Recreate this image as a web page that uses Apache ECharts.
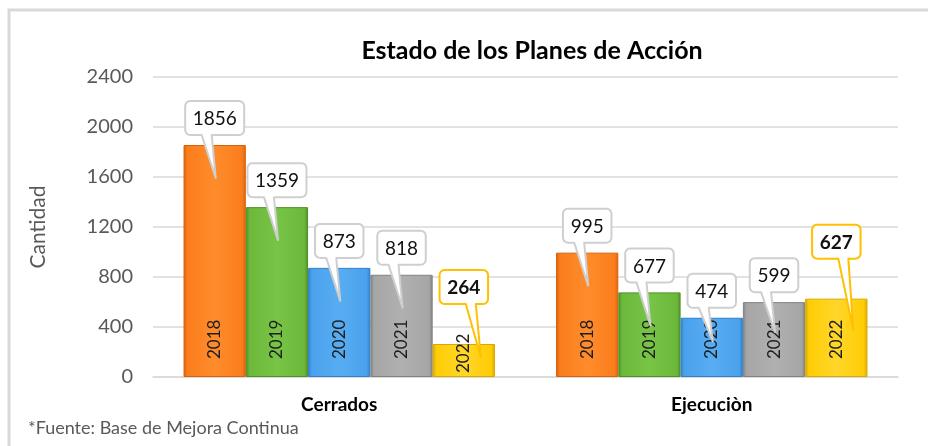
<!DOCTYPE html>
<html lang="es">
<head>
    <meta charset="UTF-8">
    <title>Estado de los Planes de Acción</title>
    <script src="https://cdn.jsdelivr.net/npm/echarts@6/dist/echarts.min.js"></script>
    <style>
        html, body { margin: 0; padding: 0; background: #fff; }
        #main { width: 928px; height: 446px; }
    </style>
</head>
<body>
<div id="main"></div>
<script>
    // datos
    let categorias = ['Cerrados', 'Ejecuciòn'];
    let anios = ['2018', '2019', '2020', '2021', '2022'];
    let v2018 = [1856, 995];
    let v2019 = [1359, 677];
    let v2020 = [873, 474];
    let v2021 = [818, 599];
    let v2022 = [264, 627];
    let valores = [v2018, v2019, v2020, v2021, v2022];
    let ticksY = [0, 400, 800, 1200, 1600, 2000, 2400];

    let colores = [
        ['#d8620c', '#fb7d1c', '#ff8c2c'],
        ['#4f8f28', '#6cb83a', '#78c446'],
        ['#2f7fcb', '#4aa2ec', '#58adf2'],
        ['#828282', '#a6a6a6', '#b0b0b0'],
        ['#d9a800', '#ffcd05', '#ffd62a']
    ];
    let gapCat = 0.164;
    let fuente = 'Lato, "Open Sans", sans-serif';

    function grad(c) {
        return new echarts.graphic.LinearGradient(0, 0, 1, 0, [
            {offset: 0, color: c[0]},
            {offset: 0.06, color: c[1]},
            {offset: 0.5, color: c[2]},
            {offset: 0.94, color: c[1]},
            {offset: 1, color: c[0]}
        ]);
    }

    // rectángulo redondeado con cola, como lista de puntos
    function globo(x0, y0, x1, y1, r, bx0, bx1, tx, ty) {
        let pts = [];
        function arco(cx, cy, a0) {
            for (let s = 0; s <= 4; s++) {
                let a = (a0 + s * 22.5) * Math.PI / 180;
                pts.push([cx + r * Math.cos(a), cy + r * Math.sin(a)]);
            }
        }
        arco(x0 + r, y0 + r, 180);
        arco(x1 - r, y0 + r, 270);
        arco(x1 - r, y1 - r, 0);
        pts.push([bx1, y1], [tx, ty], [bx0, y1]);
        arco(x0 + r, y1 - r, 90);
        return pts;
    }

    let chart = echarts.init(document.getElementById('main'));

    let series = [];
    anios.forEach((a, k) => {
        series.push({
            name: a,
            type: 'bar',
            data: valores[k].map(v => v < 400 ? {value: v, label: {distance: 4}} : v),
            barGap: 0,
            barCategoryGap: (gapCat * 100) + '%',
            itemStyle: {color: grad(colores[k]), borderColor: colores[k][0], borderWidth: 1},
            label: {
                show: true,
                position: 'insideBottom',
                rotate: 90,
                distance: 18,
                formatter: a,
                color: '#1e1e1e',
                fontSize: 17,
                fontFamily: fuente,
                align: 'left',
                verticalAlign: 'middle'
            }
        });
    });

    // globos de los valores
    anios.forEach((a, k) => {
        let destacado = k === 4;
        series.push({
            type: 'custom',
            z: 10,
            data: valores[k].map((v, i) => [i, v]),
            renderItem: function (params, api) {
                let i = api.value(0), v = api.value(1);
                let band = api.size([1, 0])[0];
                let bw = band * (1 - gapCat) / anios.length;
                let p = api.coord([i, v]);
                let base = api.coord([i, 0])[1];
                let cx = p[0] + (k - 2) * bw;
                let top = p[1];
                let txt = String(v);
                let w = txt.length * 10.5 + 17;
                let h = 34;
                let gap = destacado ? 40 : 10;
                let y1 = top - gap, y0 = y1 - h;
                let x0 = cx - w / 2, x1 = cx + w / 2;
                let depth = Math.min(33, (base - top) * 0.4);
                let tx = cx + (destacado ? 17 : 1), ty = top + depth;
                let bx0 = cx - 13 + (destacado ? 15 : 0), bx1 = bx0 + 10;
                let borde = destacado ? '#ffc000' : '#cfcfcf';
                return {
                    type: 'group',
                    children: [
                        {
                            type: 'polygon',
                            shape: {points: globo(x0, y0, x1, y1, 5, bx0, bx1, tx, ty)},
                            style: {fill: '#fff', stroke: borde, lineWidth: 2, lineJoin: 'round'}
                        },
                        {
                            type: 'text',
                            style: {
                                x: cx, y: (y0 + y1) / 2 + 1, text: txt,
                                align: 'center', verticalAlign: 'middle',
                                font: (destacado ? 'bold ' : '') + '19px ' + fuente,
                                fill: '#111'
                            }
                        }
                    ]
                };
            }
        });
    });

    chart.setOption({
        animation: false,
        textStyle: {fontFamily: fuente},
        title: {
            text: 'Estado de los Planes de Acción',
            left: 527, top: 33, textAlign: 'center',
            textStyle: {fontSize: 25, fontWeight: 'bold', color: '#000', fontFamily: fuente}
        },
        grid: {left: 153, right: 30, top: 77, bottom: 69},
        xAxis: {
            type: 'category',
            data: categorias,
            axisLine: {lineStyle: {color: '#d9d9d9', width: 1.5}},
            axisTick: {show: false},
            axisLabel: {color: '#000', fontWeight: 'bold', fontSize: 19, margin: 18}
        },
        yAxis: {
            type: 'value',
            min: ticksY[0], max: ticksY[ticksY.length - 1], interval: 400,
            name: 'Cantidad',
            nameLocation: 'middle',
            nameGap: 104,
            nameTextStyle: {color: '#595959', fontSize: 21},
            axisLine: {show: false},
            axisTick: {show: false},
            axisLabel: {color: '#595959', fontSize: 20, margin: 20, formatter: v => String(v)},
            splitLine: {lineStyle: {color: '#d9d9d9', width: 1.5}}
        },
        graphic: [
            {
                type: 'polyline',
                shape: {points: [[9, 446], [9, 10], [928, 10]]},
                style: {stroke: '#d9d9d9', lineWidth: 3, fill: null}
            },
            {
                type: 'text', left: 28, top: 419,
                style: {text: '*Fuente: Base de Mejora Continua', font: '18px ' + fuente, fill: '#595959'}
            }
        ],
        series: series
    });
</script>
</body>
</html>
